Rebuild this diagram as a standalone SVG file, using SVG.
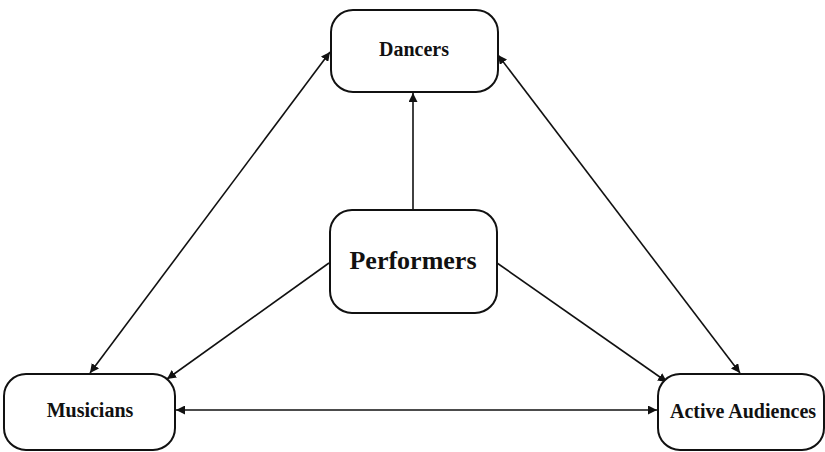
<svg xmlns="http://www.w3.org/2000/svg" width="825" height="452" viewBox="0 0 825 452">
<defs>
<marker id="ah" viewBox="0 0 10 10" refX="10" refY="5" markerWidth="9" markerHeight="9" markerUnits="userSpaceOnUse" orient="auto-start-reverse">
<path d="M0,0 L10,5 L0,10 z" fill="#111"/>
</marker>
<style>
.box{fill:#fff;stroke:#111;stroke-width:2}
.lbl{font-family:"Liberation Serif","Times New Roman",serif;font-weight:bold;fill:#111;text-anchor:middle}
.ln{stroke:#111;stroke-width:1.6;fill:none}
</style>
</defs>
<rect width="825" height="452" fill="#fff"/>
<g id="connectors">
<line class="ln" x1="413" y1="210" x2="413" y2="93" marker-end="url(#ah)"/>
<line class="ln" x1="90" y1="373" x2="330" y2="52" marker-start="url(#ah)" marker-end="url(#ah)"/>
<line class="ln" x1="329" y1="263" x2="167" y2="379" marker-end="url(#ah)"/>
<line class="ln" x1="498" y1="55" x2="740" y2="373" marker-start="url(#ah)" marker-end="url(#ah)"/>
<line class="ln" x1="497" y1="263" x2="667" y2="382" marker-end="url(#ah)"/>
<line class="ln" x1="176" y1="410" x2="657" y2="410" marker-start="url(#ah)" marker-end="url(#ah)"/>
</g>
<g id="dancers">
<rect class="box" x="331" y="10" width="167" height="82" rx="22"/>
<text class="lbl" x="414" y="56" font-size="20">Dancers</text>
</g>
<g id="performers">
<rect class="box" x="330" y="210" width="167" height="103" rx="22"/>
<text class="lbl" x="413" y="269" font-size="26">Performers</text>
</g>
<g id="musicians">
<rect class="box" x="4" y="374" width="171" height="76" rx="22"/>
<text class="lbl" x="90" y="417" font-size="20">Musicians</text>
</g>
<g id="active-audiences">
<rect class="box" x="658" y="374" width="166" height="76" rx="22"/>
<text class="lbl" x="743" y="418" font-size="20">Active Audiences</text>
</g>
</svg>
